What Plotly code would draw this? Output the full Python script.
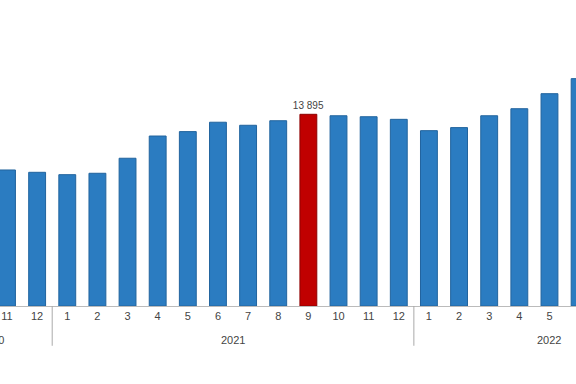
import plotly.graph_objects as go

months = ["11", "12", "1", "2", "3", "4", "5", "6", "7", "8", "9", "10", "11", "12",
          "1", "2", "3", "4", "5", "6"]
values = [9860, 9690, 9520, 9620, 10710, 12320, 12640, 13320, 13100, 13430, 13895,
          13790, 13720, 13530, 12710, 12930, 13790, 14300, 15390, 16480]
years = ["2020", "2021", "2022"]
year_pos = [0, 7.5, 18.0]
year_shift = [-15, 0, 0]
dividers = [1.5, 13.5]
highlight = 10
xrange_ = [-0.232, 18.88]

x = list(range(len(values)))
colors = ["#C00000" if i == highlight else "#2B7CC1" for i in x]
lines = ["#8E0000" if i == highlight else "#22649E" for i in x]
text = [f"{v:,}".replace(",", " ") if i == highlight else "" for i, v in enumerate(values)]

fig = go.Figure(go.Bar(
    x=x, y=values, width=0.56,
    marker=dict(color=colors, line=dict(color=lines, width=1)),
    text=text, textposition="outside", cliponaxis=False, constraintext="none",
    textfont=dict(size=10, color="#444444", family="Liberation Sans, Arial"),
))

for yr, p, s in zip(years, year_pos, year_shift):
    fig.add_annotation(x=p, xshift=s, y=-0.11, xref="x", yref="paper", text=yr,
                       showarrow=False, font=dict(size=11, color="#444444",
                       family="Liberation Sans, Arial"), yanchor="middle")
for d in dividers:
    fig.add_shape(type="line", x0=d, x1=d, xref="x", y0=0, y1=-0.13, yref="paper",
                  line=dict(color="#AAAAAA", width=1))

fig.update_layout(
    width=576, height=384,
    margin=dict(l=0, r=0, t=0, b=78),
    paper_bgcolor="white", plot_bgcolor="white",
    showlegend=False,
    xaxis=dict(range=xrange_, tickmode="array", tickvals=x, ticktext=months,
               showgrid=False, zeroline=False, showline=True, linecolor="#BBBBBB",
               linewidth=1, ticks="", tickfont=dict(size=11, color="#444444",
               family="Liberation Sans, Arial")),
    yaxis=dict(range=[0, 22180], visible=False, showgrid=False, zeroline=False),
)

fig.write_html("out.html", config={"displayModeBar": False},
               post_script="document.body.style.margin='0';document.body.style.overflow='hidden';")
